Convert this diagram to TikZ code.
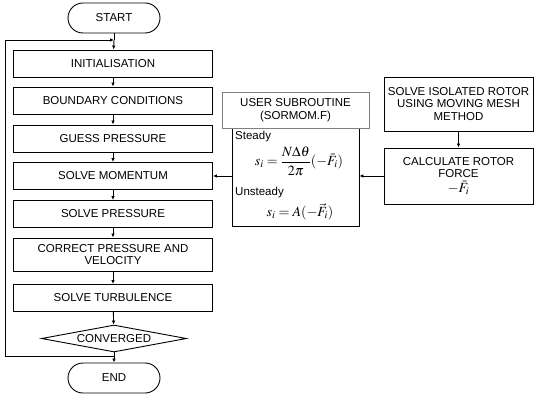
\documentclass[tikz,border=0pt]{standalone}
\usepackage{amsmath}
\usepackage{mathptmx}
\usepackage{fontspec}
\setmainfont{Liberation Sans}
\usetikzlibrary{shapes.geometric,arrows.meta}
\begin{document}
\begin{tikzpicture}[x=1pt,y=-1pt,font=\fontsize{11.5}{12.5}\selectfont]
	\tikzstyle{every node}+=[inner sep=0pt]
	\tikzstyle{procbox}=[draw,line width=0.9pt,minimum width=199pt,minimum height=27pt,align=center]
	\tikzstyle{termbox}=[draw,line width=0.9pt,rounded corners=15pt,minimum width=92pt,minimum height=30pt]
	\tikzstyle{flow}=[line width=0.9pt,-{Latex[length=4pt,width=3.5pt]}]
	\tikzstyle{eqn}=[font=\fontsize{14}{16}\selectfont]
	\useasboundingbox (0,0) rectangle (534,395);
	% main loop
	\node [termbox] (start) at (114,18) {START};
	\coordinate (loopin) at (114,40);
	\node [procbox] (init) at (113,63.5) {INITIALISATION};
	\node [procbox] (bound) at (113,100.5) {BOUNDARY CONDITIONS};
	\node [procbox] (guess) at (113,138.5) {GUESS PRESSURE};
	\node [procbox] (mom) at (113,176) {SOLVE MOMENTUM};
	\node [procbox] (pres) at (113,214) {SOLVE PRESSURE};
	\node [procbox,minimum height=33pt,align=center] (corr) at (113,254.5) {CORRECT PRESSURE AND\\[-1pt]VELOCITY};
	\node [procbox] (turb) at (113,298) {SOLVE TURBULENCE};
	\node [draw,line width=0.9pt,diamond,shape aspect=5.4,minimum width=145pt,minimum height=27pt] (conv) at (114,338.5) {CONVERGED};
	\coordinate (loopout) at (114,356);
	\node [termbox] (end) at (114,378) {END};
	\draw [line width=0.9pt] (start) -- (loopin);
	\draw [flow] (loopin) -- (init);
	\draw [flow] (init) -- (bound);
	\draw [flow] (bound) -- (guess);
	\draw [flow] (guess) -- (mom);
	\draw [flow] (mom) -- (pres);
	\draw [flow] (pres) -- (corr);
	\draw [flow] (corr) -- (turb);
	\draw [flow] (turb) -- (conv);
	\draw [flow] (conv) -- (end);
	\draw [flow] (loopout) -- (5,356) -- (5,40) -- (loopin);
	% user subroutine
	\node [draw,line width=0.9pt,minimum width=127pt,minimum height=116pt] (subbody) at (295.5,168) {};
	\node [draw=gray,fill=white,line width=0.5pt,minimum width=147pt,minimum height=36pt,align=center] (sub) at (295.5,110) {USER SUBROUTINE\\(SORMOM.F)};
	\node [anchor=west] (steady) at (235,137) {Steady};
	\node [eqn] (steadyeq) at (299,161) {$s_i=\dfrac{N\Delta\theta}{2\pi}(-\bar{F}_i)$};
	\node [anchor=west] (unsteady) at (235,193) {Unsteady};
	\node [eqn] (unsteadyeq) at (300,212) {$s_i=A(-\vec{F}_i)$};
	% rotor
	\node [draw,line width=0.9pt,minimum width=149pt,minimum height=54pt,align=center] (rotor) at (458.5,104) {SOLVE ISOLATED ROTOR\\USING MOVING MESH\\METHOD};
	\node [draw,line width=0.9pt,minimum width=149pt,minimum height=56pt,align=center] (force) at (458.5,176) {CALCULATE ROTOR\\FORCE\\[2pt]{\fontsize{14}{14}\selectfont$-\bar{F}_i$}};
	\draw [flow] (rotor) -- (force);
	\draw [flow] (force.west) -- (force.west -| subbody.east);
	\draw [flow] (mom.east -| subbody.west) -- (mom.east);
\end{tikzpicture}
\end{document}
